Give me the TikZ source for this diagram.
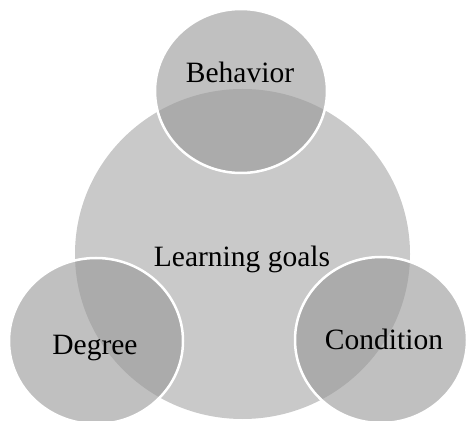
\documentclass[tikz,border=0pt]{standalone}
\usepackage{fontspec}
\setmainfont{Liberation Serif}
\usepackage{tikz}
\usetikzlibrary{shapes.geometric}
\definecolor{myBigGray}{RGB}{201,201,201}
\definecolor{mySmallGray}{RGB}{152,152,152}

\begin{document}
\begin{tikzpicture}[%
        x=1pt,y=1pt,
        every node/.style={
            font=\fontsize{29.5}{31}\selectfont,
        },
        bigset/.style={ellipse,inner sep=0pt,fill=myBigGray},
        smallset/.style={ellipse,inner sep=0pt,fill=mySmallGray,fill opacity=0.61,
            draw=white,draw opacity=1,line width=2.5pt},
    ]
    \useasboundingbox (0,0) rectangle (468,420);

    % big circle in the middle
    \node[bigset,minimum width=335,minimum height=330] (goals) at (242.5,166) {};

    % three small circles round it
    \node[smallset,minimum width=172,minimum height=164] (behavior) at (241,329) {};
    \node[smallset,minimum width=174,minimum height=166] (degree) at (96,79) {};
    \node[smallset,minimum width=172,minimum height=166] (condition) at (381,80) {};

    % place the labels
    \node[anchor=base] (goalstext) at (242,153) {Learning goals};
    \node[anchor=base] (behaviortext) at (240,337) {Behavior};
    \node[anchor=base] (degreetext) at (95,65) {Degree};
    \node[anchor=base] (conditiontext) at (384,70) {Condition};
\end{tikzpicture}
\end{document}
